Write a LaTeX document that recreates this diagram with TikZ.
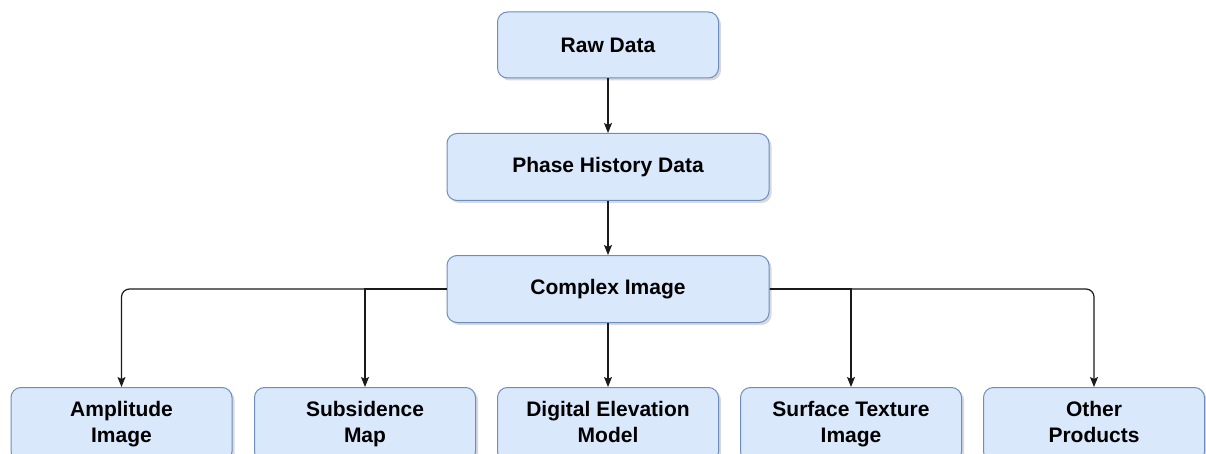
\documentclass[tikz,border=0pt]{standalone}
\usepackage{fontspec}
\setmainfont{Liberation Sans}
\usetikzlibrary{arrows.meta,shadows}
\definecolor{boxfill}{HTML}{DAE8FC}
\definecolor{boxline}{HTML}{6C8EBF}
\definecolor{linec}{HTML}{1A1A1A}
\tikzset{
  stepbox/.style={draw=boxline, fill=boxfill, line width=1pt, rounded corners=10pt,
    minimum width=221pt, minimum height=66pt, inner sep=0pt,
    font=\fontsize{21}{26}\selectfont\bfseries, align=center,
    drop shadow={shadow xshift=2.5pt, shadow yshift=-2.5pt, opacity=0.25, fill=black!60}},
  widebox/.style={stepbox, minimum width=322pt, minimum height=67pt},
  leafbox/.style={stepbox, minimum height=74pt},
  conn/.style={draw=linec, line width=1.2pt, -{Stealth[length=10pt,width=8pt,inset=2pt]}},
}
\begin{document}
\begin{tikzpicture}[x=1pt,y=-1pt]
\useasboundingbox (0,0) rectangle (1206,454);
\node[stepbox] (raw) at (608,45) {Raw Data};
\node[widebox] (phd) at (608,167) {Phase History Data};
\node[widebox] (ci) at (608,289) {Complex Image};
\node[leafbox] (amp) at (121.5,424.5) {Amplitude\strut\\Image\strut};
\node[leafbox] (sub) at (365,424.5) {Subsidence\strut\\Map\strut};
\node[leafbox] (dem) at (608,424.5) {Digital Elevation\strut\\Model\strut};
\node[leafbox] (sti) at (851,424.5) {Surface Texture\strut\\Image\strut};
\node[leafbox] (oth) at (1094,424.5) {Other\strut\\Products\strut};
\draw[conn] (raw) -- (phd);
\draw[conn] (phd) -- (ci);
\draw[conn] (ci) -- (dem);
\draw[conn, rounded corners=8pt] (ci.west) -| (amp.north);
\draw[conn] (ci.west) -| (sub.north);
\draw[conn, rounded corners=8pt] (ci.east) -| (oth.north);
\draw[conn] (ci.east) -| (sti.north);
\end{tikzpicture}
\end{document}
